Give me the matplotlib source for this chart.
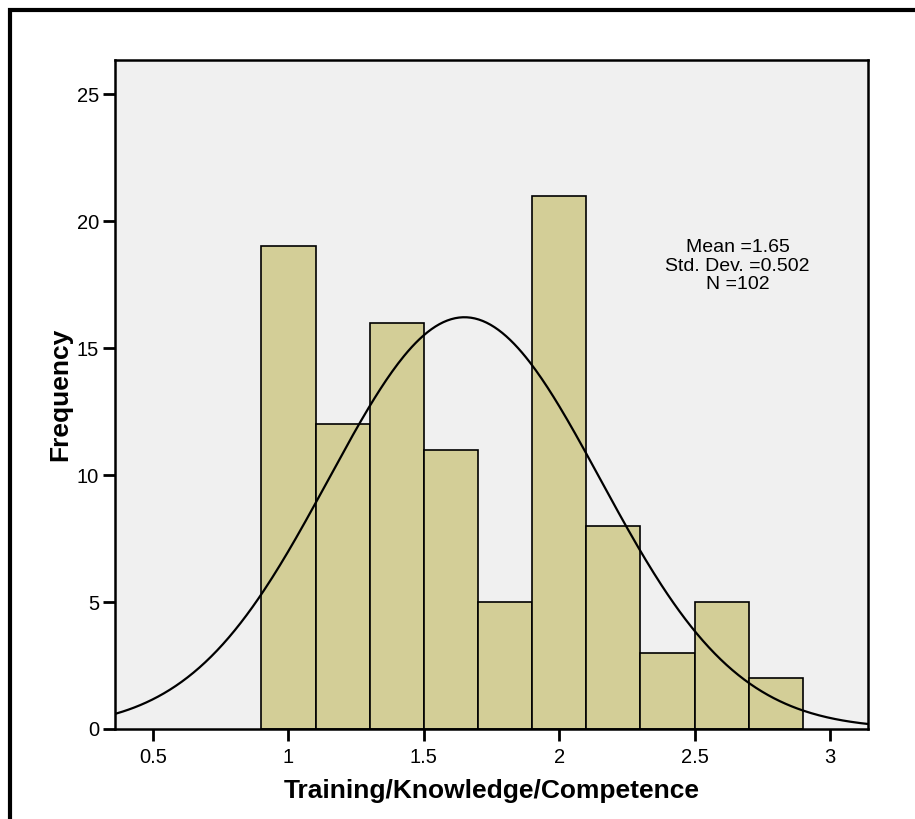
import matplotlib
matplotlib.use("Agg")
import matplotlib.pyplot as plt
from matplotlib.patches import Rectangle
import numpy as np

plt.rcParams['font.family'] = ['Liberation Sans', 'DejaVu Sans']

# histogram bins and counts
bin_edges = [0.9, 1.1, 1.3, 1.5, 1.7, 1.9, 2.1, 2.3, 2.5, 2.7, 2.9]
counts = [19, 12, 16, 11, 5, 21, 8, 3, 5, 2]
mean, sd, n = 1.65, 0.502, 102

x_ticks = [0.5, 1, 1.5, 2, 2.5, 3]
x_tick_labels = ['0.5', '1', '1.5', '2', '2.5', '3']
y_ticks = [0, 5, 10, 15, 20, 25]

fig = plt.figure(figsize=(9.15, 8.19), dpi=100)
ax = fig.add_axes([115 / 915, 1 - 729 / 819, (868 - 115) / 915, (729 - 60) / 819])
ax.set_facecolor('#f0f0f0')

widths = np.diff(bin_edges)
ax.bar(bin_edges[:-1], counts, width=widths, align='edge',
       color='#d3ce97', edgecolor='black', linewidth=1.2, zorder=2)

# fitted normal curve scaled to counts
xs = np.linspace(0.3, 3.2, 400)
bw = widths[0]
ys = n * bw / (sd * np.sqrt(2 * np.pi)) * np.exp(-0.5 * ((xs - mean) / sd) ** 2)
ax.plot(xs, ys, color='black', linewidth=1.6, zorder=3)

ax.set_xlim(0.359, 3.141)
ax.set_ylim(0, 26.34)
ax.set_xticks(x_ticks)
ax.set_xticklabels(x_tick_labels)
ax.set_yticks(y_ticks)
ax.tick_params(direction='out', length=8.5, width=2, labelsize=14.5, pad=3, colors='black')
ax.tick_params(axis='x', pad=5)
for s in ax.spines.values():
    s.set_linewidth(1.8)
    s.set_color('black')

ax.set_xlabel('Training/Knowledge/Competence', fontsize=19, fontweight='bold', labelpad=9)
ax.set_ylabel('Frequency', fontsize=19, fontweight='bold', labelpad=3)

ax.text(0.827, 0.692, f'Mean ={mean}\nStd. Dev. ={sd}\nN ={n}',
        transform=ax.transAxes, ha='center', va='center',
        fontsize=14, linespacing=1.12)

# outer frame
fig.patches.append(Rectangle((10 / 915, -0.1), 1.2, 1 - 10 / 819 + 0.1,
                             transform=fig.transFigure, fill=False,
                             edgecolor='black', linewidth=3))

fig.savefig('out.png', dpi=100, facecolor='white')
